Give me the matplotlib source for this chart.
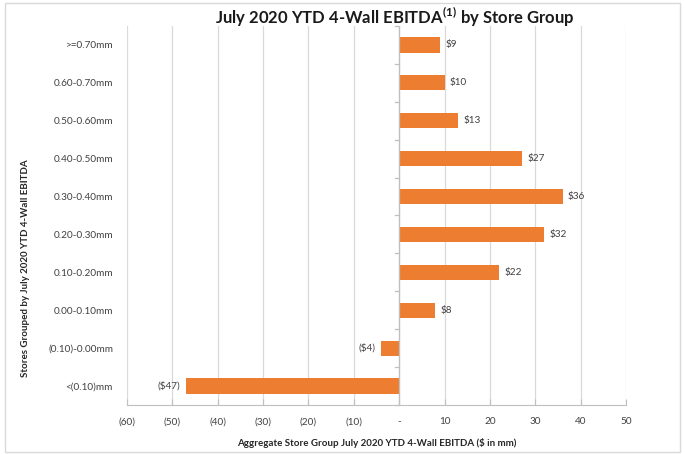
import matplotlib
matplotlib.use('Agg')
import matplotlib.pyplot as plt
import numpy

# store groups, top to bottom
groups = ['>=0.70mm', '0.60-0.70mm', '0.50-0.60mm', '0.40-0.50mm',
          '0.30-0.40mm', '0.20-0.30mm', '0.10-0.20mm', '0.00-0.10mm',
          '(0.10)-0.00mm', '<(0.10)mm']
ebitda = [9, 10, 13, 27, 36, 32, 22, 8, -4, -47]

x_ticks = [-60, -50, -40, -30, -20, -10, 0, 10, 20, 30, 40, 50]
x_tick_labels = ['(60)', '(50)', '(40)', '(30)', '(20)', '(10)', '-',
                 '10', '20', '30', '40', '50']

plt.rcParams['font.family'] = ['Lato', 'DejaVu Sans']

fig = plt.figure(figsize=(6.85, 4.54), dpi=100)
ax = fig.add_axes([0.1854, 0.108, 0.7285, 0.8347])

y_pos = numpy.arange(len(groups))[::-1]
ax.barh(y_pos, ebitda, height=0.4, color='#ED7D31', zorder=3)

for y, v in zip(y_pos, ebitda):
    if v >= 0:
        ax.text(v + 1.2, y, '$%d' % v, va='center', ha='left',
                fontsize=7.2, color='#404040')
    else:
        ax.text(v - 1.2, y, '($%d)' % abs(v), va='center', ha='right',
                fontsize=7.2, color='#404040')

ax.set_xlim(-60, 50)
ax.set_ylim(-0.5, len(groups) - 0.5)
ax.set_xticks(x_ticks)
ax.set_xticklabels(x_tick_labels, fontsize=7.2, color='#404040')
ax.set_yticks(y_pos)
ax.set_yticklabels(groups, fontsize=7.2, color='#404040')
ax.tick_params(axis='y', length=0, pad=10)
ax.tick_params(axis='x', length=4, direction='in', color='#BFBFBF', pad=9)

ax.grid(axis='x', color='#D9D9D9', linewidth=0.9, zorder=0)

for side in ['top', 'right', 'left']:
    ax.spines[side].set_visible(False)
ax.spines['bottom'].set_color('#BFBFBF')

# category axis sits on zero, with short ticks between groups
ax.axvline(0, color='#BFBFBF', linewidth=0.9, zorder=4)
for b in numpy.arange(len(groups) + 1) - 0.5:
    ax.plot([-1.0, 0], [b, b], color='#BFBFBF', linewidth=0.9, zorder=4,
            clip_on=False)

ax.set_xlabel('Aggregate Store Group July 2020 YTD 4-Wall EBITDA ($ in mm)',
              fontsize=7, fontweight='bold', color='#262626', labelpad=8)
ax.set_ylabel('Stores Grouped by July 2020 YTD 4-Wall EBITDA',
              fontsize=7, fontweight='bold', color='#262626')
ax.yaxis.set_label_coords(-0.195, 0.36)

fig.text(0.5766, 0.962,
         r'July 2020 YTD 4-Wall EBITDA$^{\mathregular{(1)}}$ by Store Group',
         ha='center', va='center', fontsize=12, fontweight='bold',
         color='#1a1a1a')

# light frame round the whole chart
frame = plt.Rectangle((0.008, 0.005), 0.984, 0.988, transform=fig.transFigure,
                      fill=False, edgecolor='#D9D9D9', linewidth=1.0)
fig.patches.append(frame)

fig.savefig('out.png', dpi=100)
plt.close(fig)
